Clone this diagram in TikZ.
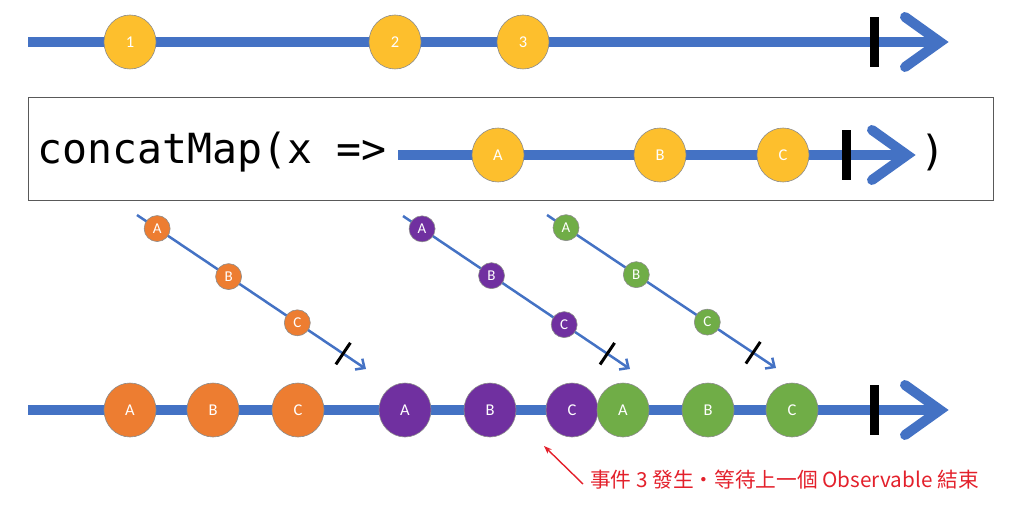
\documentclass[tikz,border=0pt]{standalone}
\usepackage{fontspec}
\setmainfont{Carlito}
\newfontfamily\monof{DejaVu Sans Mono}
\newfontfamily\cjkf{Noto Sans CJK TC}
\usetikzlibrary{arrows.meta,shapes.geometric}
\definecolor{tblue}{HTML}{4472C4}
\definecolor{tyellow}{HTML}{FDBF2D}
\definecolor{torange}{HTML}{ED7D31}
\definecolor{tpurple}{HTML}{7030A0}
\definecolor{tgreen}{HTML}{70AD47}
\definecolor{tred}{HTML}{E3202B}
\tikzset{
  mline/.style={draw=tblue, line width=10pt},
  chev/.style={draw=tblue, line width=10pt, line cap=round, line join=miter},
  endbar/.style={fill=black, draw=none, minimum width=9pt, minimum height=50pt, inner sep=0pt, rectangle},
  big/.style={ellipse, minimum width=52pt, minimum height=54pt, draw=black!45, line width=0.6pt, text=white, inner sep=0pt, font=\fontsize{16.5}{16.5}\selectfont},
  small/.style={circle, minimum size=26pt, draw=black!45, line width=0.6pt, text=white, inner sep=0pt, font=\fontsize{15}{15}\selectfont},
  diag/.style={draw=tblue, line width=2.5pt, -{Straight Barb[length=7pt,width=13pt,line width=2.5pt]}},
  tick/.style={sloped, fill=black, draw=none, minimum width=3pt, minimum height=26pt, inner sep=0pt, rectangle},
  codetext/.style={font=\monof\fontsize{41.5}{41.5}\selectfont, inner sep=0pt}
}
\begin{document}
\begin{tikzpicture}[x=1pt,y=-1pt]
\useasboundingbox (0,0) rectangle (1024,513);
% ---------- top timeline ----------
\coordinate (t0) at (28,42);
\coordinate (t1) at (935,42);
\draw[mline] (t0) -- (t1);
\draw[chev] (905,17) -- (940,42) -- (905,67);
\node[endbar] (tbar) at (874,42) {};
\node[big, fill=tyellow] (n1) at (130,42) {1};
\node[big, fill=tyellow] (n2) at (395,42) {2};
\node[big, fill=tyellow] (n3) at (523,42) {3};
% ---------- box ----------
\node[draw=black!65, line width=0.8pt, rectangle, minimum width=965pt, minimum height=103pt, inner sep=0pt] (box) at (510.5,148.5) {};
\node[codetext, anchor=west] (code) at (37,152) {concatMap(x =>};
\coordinate (i0) at (398,155);
\coordinate (i1) at (900,155);
\draw[mline] (i0) -- (i1);
\draw[chev] (872,130) -- (907,155) -- (872,180);
\node[endbar] (ibar) at (846,155) {};
\node[big, fill=tyellow] (ia) at (498,155) {A};
\node[big, fill=tyellow] (ib) at (660,155) {B};
\node[big, fill=tyellow] (ic) at (783,155) {C};
\node[codetext, anchor=west] (paren) at (920,152) {)};
% ---------- diagonal inner observables ----------
\coordinate (os) at (137,215);
\coordinate (oe) at (366,369);
\draw[diag] (os) -- (oe)
  node[small, fill=torange, pos=0.088] (oa) {A}
  node[small, fill=torange, pos=0.40] (ob) {B}
  node[small, fill=torange, pos=0.70] (oc) {C}
  node[tick, pos=0.90] (ot) {};
\coordinate (ps) at (403,216);
\coordinate (pe) at (630,369);
\draw[diag] (ps) -- (pe)
  node[small, fill=tpurple, pos=0.084] (pa) {A}
  node[small, fill=tpurple, pos=0.39] (pb) {B}
  node[small, fill=tpurple, pos=0.71] (pc) {C}
  node[tick, pos=0.90] (pt) {};
\coordinate (gs) at (547,215);
\coordinate (ge) at (776,368);
\draw[diag] (gs) -- (ge)
  node[small, fill=tgreen, pos=0.083] (ga) {A}
  node[small, fill=tgreen, pos=0.39] (gb) {B}
  node[small, fill=tgreen, pos=0.70] (gc) {C}
  node[tick, pos=0.90] (gt) {};
% ---------- bottom timeline ----------
\coordinate (b0) at (28,410);
\coordinate (b1) at (935,410);
\draw[mline] (b0) -- (b1);
\draw[chev] (905,385) -- (940,410) -- (905,435);
\node[endbar] (bbar) at (874,410) {};
\node[big, fill=torange] (r1) at (130,410) {A};
\node[big, fill=torange] (r2) at (213,410) {B};
\node[big, fill=torange] (r3) at (298,410) {C};
\node[big, fill=tpurple] (r4) at (405,410) {A};
\node[big, fill=tpurple] (r5) at (490,410) {B};
\node[big, fill=tpurple] (r6) at (572,410) {C};
\node[big, fill=tgreen] (r7) at (623,410) {A};
\node[big, fill=tgreen] (r8) at (708,410) {B};
\node[big, fill=tgreen] (r9) at (792,410) {C};
% ---------- annotation ----------
\node[anchor=west, text=tred, inner sep=0pt, font=\cjkf\fontsize{20.7}{21}\selectfont] (note) at (590,480) {事件 3 發生・等待上一個 Observable 結束};
\coordinate (notestart) at (583,484);
\coordinate (notetip) at (544,446);
\draw[tred, line width=1.4pt, -{Stealth[length=8pt,width=6pt]}] (notestart) -- (notetip);
\end{tikzpicture}
\end{document}
